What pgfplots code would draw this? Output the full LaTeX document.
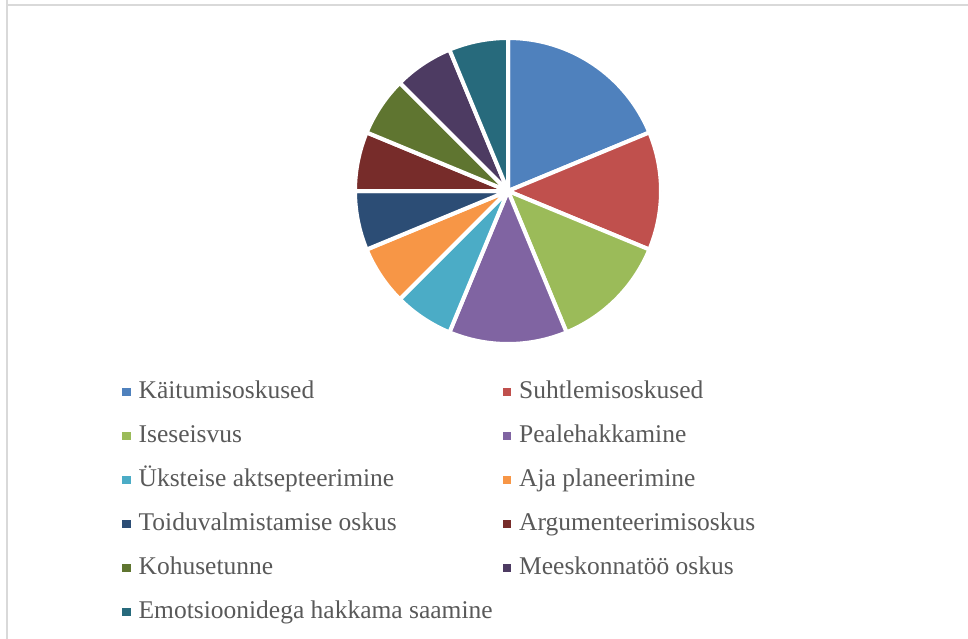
\documentclass[border=0pt]{standalone}
\usepackage{pgfplots}
\pgfplotsset{compat=1.18}
\usepackage{pgfplotstable}
\usepackage{fontspec}
\setmainfont{Liberation Serif}
\definecolor{c0}{HTML}{4F81BD}
\definecolor{c1}{HTML}{C0504D}
\definecolor{c2}{HTML}{9BBB59}
\definecolor{c3}{HTML}{8064A2}
\definecolor{c4}{HTML}{4BACC6}
\definecolor{c5}{HTML}{F79646}
\definecolor{c6}{HTML}{2C4D75}
\definecolor{c7}{HTML}{772C2A}
\definecolor{c8}{HTML}{5F7530}
\definecolor{c9}{HTML}{4D3B62}
\definecolor{c10}{HTML}{276A7C}
\definecolor{txt}{HTML}{595959}
\definecolor{framec}{HTML}{D9D9D9}

\pgfplotstableread[col sep=comma]{
label,value
Käitumisoskused,3
Suhtlemisoskused,2
Iseseisvus,2
Pealehakkamine,2
Üksteise aktsepteerimine,1
Aja planeerimine,1
Toiduvalmistamise oskus,1
Argumenteerimisoskus,1
Kohusetunne,1
Meeskonnatöö oskus,1
Emotsioonidega hakkama saamine,1
}\piedata

\pgfplotsset{legend image code/.code={\fill[#1, draw=none] (0pt,-4.25pt) rectangle (8.5pt,4.25pt);}}

\begin{document}
\begin{tikzpicture}
\useasboundingbox (0,0) rectangle (968pt,638pt);
\draw[framec, line width=2pt] (7pt,645pt) -- (7pt,632.5pt) -- (975pt,632.5pt);
\draw[framec, line width=2pt] (7pt,632.5pt) -- (7pt,-5pt);
\pgfplotstablegetrowsof{\piedata}
\pgfmathtruncatemacro\nrows{\pgfplotsretval-1}
\def\total{0}
\pgfplotsforeachungrouped \i in {0,...,\nrows}{%
  \pgfplotstablegetelem{\i}{value}\of\piedata
  \pgfmathsetmacro\total{\total+\pgfplotsretval}%
}
\begin{axis}[
  scale only axis, width=306pt, height=306pt,
  xmin=-1, xmax=1, ymin=-1, ymax=1,
  hide axis,
  at={(508pt,447pt)}, anchor=center,
  legend columns=2, legend cell align=left,
  legend style={at={(-0.7604,-0.1137)}, anchor=north west, draw=none, fill=none,
    inner sep=0pt, outer sep=0pt, font=\fontsize{25.5}{30}\selectfont, text=txt,
    column sep=7.8pt, row sep=18pt,
    nodes={inner sep=0pt, text height=20pt, text depth=6pt}},
]
\pgfmathsetmacro\angA{90}
\pgfplotsforeachungrouped \i in {0,...,\nrows}{%
  \pgfplotstablegetelem{\i}{value}\of\piedata
  \pgfmathsetmacro\angB{\angA-360*\pgfplotsretval/\total}%
  \edef\slice{\noexpand\fill[fill=c\i, draw=white, line width=4pt, line join=round] (axis cs:0,0) -- +(\angA:153pt) arc[start angle=\angA, end angle=\angB, radius=153pt] -- cycle;}%
  \slice
  \let\angA\angB
}
\addlegendimage{fill=c0}\addlegendentry{\makebox[356.5pt][l]{Käitumisoskused}}
\addlegendimage{fill=c1}\addlegendentry{\makebox[356.5pt][l]{Suhtlemisoskused}}
\addlegendimage{fill=c2}\addlegendentry{\makebox[356.5pt][l]{Iseseisvus}}
\addlegendimage{fill=c3}\addlegendentry{\makebox[356.5pt][l]{Pealehakkamine}}
\addlegendimage{fill=c4}\addlegendentry{\makebox[356.5pt][l]{Üksteise aktsepteerimine}}
\addlegendimage{fill=c5}\addlegendentry{\makebox[356.5pt][l]{Aja planeerimine}}
\addlegendimage{fill=c6}\addlegendentry{\makebox[356.5pt][l]{Toiduvalmistamise oskus}}
\addlegendimage{fill=c7}\addlegendentry{\makebox[356.5pt][l]{Argumenteerimisoskus}}
\addlegendimage{fill=c8}\addlegendentry{\makebox[356.5pt][l]{Kohusetunne}}
\addlegendimage{fill=c9}\addlegendentry{\makebox[356.5pt][l]{Meeskonnatöö oskus}}
\addlegendimage{fill=c10}\addlegendentry{\makebox[356.5pt][l]{Emotsioonidega hakkama saamine}}
\end{axis}
\end{tikzpicture}
\end{document}
